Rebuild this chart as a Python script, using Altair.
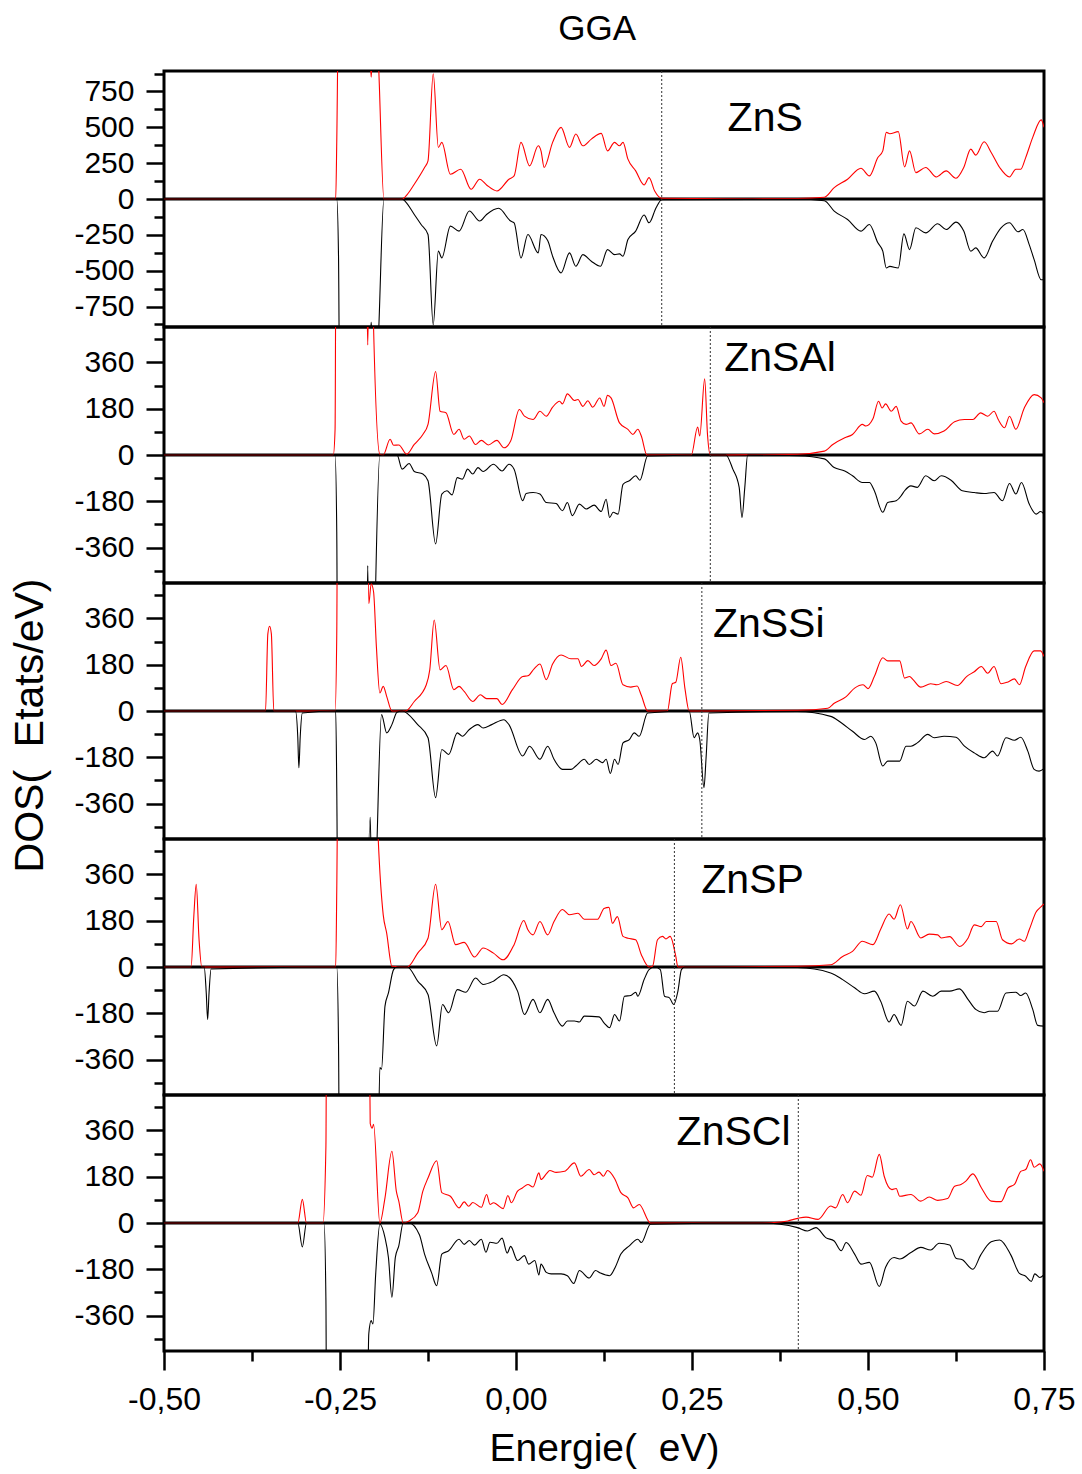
import altair as alt
import pandas as pd

FONT = "Liberation Sans"
TITLE = "GGA"
X_TITLE = "Energie(\u00a0\u00a0eV)"
Y_TITLE = "DOS(\u00a0\u00a0Etats/eV)"
X_DOMAIN = [-0.5, 0.75]
X_MAJOR = [-0.5, -0.25, 0.0, 0.25, 0.5, 0.75]
X_MINOR = [-0.375, -0.125, 0.125, 0.375, 0.625]

# ---------------- ZnS ----------------
zns_up_e = [-0.50, -0.2561, -0.2546, -0.2507, -0.2200, -0.2071, -0.2057, -0.2042, -0.2000, -0.1949, -0.1876, -0.1617, -0.1543, -0.1445, -0.1299, -0.1250, -0.1176, -0.1103, -0.1054, -0.0932, -0.0785, -0.0638, -0.0516, -0.0418, -0.0271, -0.0100, -0.0027, 0.0071, 0.0193, 0.0316, 0.0355, 0.040, 0.052, 0.064, 0.076, 0.085, 0.095, 0.107, 0.121, 0.130, 0.140, 0.147, 0.152, 0.159, 0.170, 0.182, 0.189, 0.197, 0.207, 0.30, 0.40, 0.438, 0.452, 0.471, 0.490, 0.502, 0.514, 0.521, 0.526, 0.531, 0.543, 0.552, 0.559, 0.568, 0.582, 0.597, 0.611, 0.625, 0.636, 0.646, 0.653, 0.665, 0.675, 0.687, 0.701, 0.710, 0.717, 0.724, 0.734, 0.746, 0.750]
zns_up_v = [0, 0, 400, 2000, 2000, 1000, 850, 1000, 1500, 900, 0, 0, 33, 103, 220, 266, 874, 360, 395, 173, 208, 68, 138, 98, 56, 138, 161, 395, 231, 371, 336, 220, 395, 500, 360, 453, 371, 418, 458, 336, 395, 371, 395, 278, 196, 98, 149, 56, 5, 2, 4, 12, 79, 138, 215, 161, 289, 336, 465, 455, 470, 224, 336, 184, 220, 154, 196, 145, 220, 348, 306, 399, 325, 220, 154, 208, 208, 289, 430, 552, 500]
zns_dn_e = [-0.50, -0.2546, -0.2521, -0.2497, -0.2200, -0.2071, -0.2057, -0.2042, -0.2000, -0.1949, -0.1876, -0.1617, -0.1568, -0.1445, -0.1348, -0.1250, -0.1176, -0.1103, -0.1054, -0.0932, -0.0809, -0.0663, -0.0516, -0.0418, -0.0247, -0.0076, -0.0027, 0.0071, 0.0169, 0.0316, 0.0355, 0.045, 0.052, 0.064, 0.076, 0.085, 0.095, 0.107, 0.120, 0.130, 0.140, 0.147, 0.152, 0.159, 0.170, 0.182, 0.189, 0.199, 0.207, 0.40, 0.438, 0.452, 0.471, 0.490, 0.502, 0.514, 0.521, 0.526, 0.531, 0.543, 0.551, 0.559, 0.568, 0.582, 0.599, 0.611, 0.625, 0.636, 0.646, 0.653, 0.665, 0.677, 0.689, 0.701, 0.713, 0.720, 0.729, 0.736, 0.746, 0.750]
zns_dn_v = [0, 0, -400, -2000, -2000, -1000, -860, -1000, -1500, -900, 0, 0, -20, -108, -178, -248, -878, -364, -411, -189, -224, -84, -154, -108, -65, -154, -166, -411, -248, -376, -248, -290, -399, -516, -376, -469, -388, -434, -469, -353, -388, -383, -399, -283, -224, -112, -166, -61, -5, -2, -12, -84, -143, -224, -178, -306, -364, -481, -470, -481, -243, -353, -201, -236, -173, -213, -161, -224, -364, -341, -411, -294, -201, -166, -229, -213, -318, -423, -563, -563]

# ---------------- ZnSAl ----------------
znsal_up_e = [-0.50, -0.2595, -0.2570, -0.2546, -0.2200, -0.2120, -0.2106, -0.2091, -0.2060, -0.2040, -0.1934, -0.1886, -0.1788, -0.1739, -0.1665, -0.1553, -0.1445, -0.1323, -0.1250, -0.1142, -0.1078, -0.0995, -0.0883, -0.0809, -0.0736, -0.0663, -0.0575, -0.0492, -0.0394, -0.0271, -0.0173, -0.0076, 0.0047, 0.0120, 0.0242, 0.0340, 0.043, 0.052, 0.062, 0.066, 0.073, 0.083, 0.088, 0.095, 0.102, 0.109, 0.119, 0.125, 0.130, 0.135, 0.147, 0.159, 0.166, 0.173, 0.178, 0.186, 0.249, 0.258, 0.261, 0.268, 0.272, 0.276, 0.40, 0.438, 0.450, 0.467, 0.478, 0.492, 0.497, 0.507, 0.515, 0.520, 0.525, 0.533, 0.540, 0.547, 0.554, 0.561, 0.573, 0.585, 0.594, 0.608, 0.623, 0.637, 0.649, 0.660, 0.670, 0.679, 0.685, 0.694, 0.701, 0.710, 0.722, 0.736, 0.746, 0.750]
znsal_up_v = [0, 0, 100, 2000, 2000, 700, 428, 700, 1500, 700, 3, 0, 61, 38, 39, 3, 41, 80, 119, 325, 170, 164, 80, 100, 61, 74, 41, 57, 39, 57, 28, 54, 177, 151, 138, 170, 151, 186, 209, 199, 238, 212, 216, 189, 211, 186, 222, 189, 232, 222, 125, 100, 80, 100, 74, 0, 0, 109, 74, 296, 80, 0, 3, 15, 41, 67, 80, 119, 113, 141, 209, 183, 199, 170, 189, 132, 119, 125, 82, 100, 82, 93, 129, 138, 138, 164, 151, 170, 138, 106, 151, 100, 183, 235, 222, 203]
znsal_dn_e = [-0.50, -0.2570, -0.2546, -0.2521, -0.2200, -0.2120, -0.2106, -0.2091, -0.2050, -0.1993, -0.1934, -0.1690, -0.1617, -0.1519, -0.1445, -0.1323, -0.1250, -0.1142, -0.1054, -0.0981, -0.0907, -0.0834, -0.0761, -0.0687, -0.0614, -0.0540, -0.0467, -0.0320, -0.0198, -0.0100, -0.0027, 0.0095, 0.0144, 0.0242, 0.0340, 0.043, 0.057, 0.066, 0.073, 0.080, 0.090, 0.100, 0.111, 0.121, 0.128, 0.133, 0.138, 0.145, 0.152, 0.161, 0.170, 0.176, 0.187, 0.298, 0.308, 0.317, 0.321, 0.325, 0.329, 0.40, 0.438, 0.452, 0.467, 0.478, 0.492, 0.502, 0.509, 0.521, 0.528, 0.540, 0.547, 0.552, 0.561, 0.570, 0.582, 0.594, 0.604, 0.618, 0.634, 0.651, 0.665, 0.679, 0.691, 0.701, 0.710, 0.718, 0.729, 0.739, 0.745, 0.750]
znsal_dn_v = [0, 0, -300, -2000, -2000, -800, -430, -800, -1500, -500, 0, 0, -55, -33, -64, -74, -100, -346, -152, -139, -155, -88, -94, -55, -74, -49, -64, -36, -62, -36, -55, -178, -150, -146, -152, -185, -189, -217, -185, -236, -191, -210, -195, -220, -172, -243, -223, -230, -114, -100, -81, -98, -4, 0, -55, -126, -243, -126, 0, -3, -15, -49, -62, -81, -107, -107, -139, -223, -185, -178, -159, -139, -120, -126, -81, -100, -81, -98, -139, -146, -150, -146, -178, -111, -152, -107, -191, -230, -220, -230]

# ---------------- ZnSSi ----------------
znssi_up_e = [-0.50, -0.3558, -0.3525, -0.3500, -0.3475, -0.3440, -0.2570, -0.2546, -0.2521, -0.2200, -0.2130, -0.2091, -0.2057, -0.2023, -0.1983, -0.1934, -0.1886, -0.1837, -0.1763, -0.1568, -0.1445, -0.1274, -0.1225, -0.1162, -0.1078, -0.0995, -0.0883, -0.0809, -0.0736, -0.0614, -0.0506, -0.0418, -0.0271, -0.0198, -0.0051, 0.0095, 0.0169, 0.0257, 0.0340, 0.043, 0.052, 0.064, 0.078, 0.088, 0.093, 0.102, 0.111, 0.121, 0.128, 0.135, 0.142, 0.152, 0.163, 0.172, 0.178, 0.187, 0.215, 0.222, 0.227, 0.234, 0.240, 0.246, 0.40, 0.443, 0.452, 0.469, 0.481, 0.493, 0.500, 0.509, 0.521, 0.528, 0.545, 0.552, 0.559, 0.564, 0.575, 0.589, 0.598, 0.611, 0.627, 0.640, 0.651, 0.661, 0.670, 0.679, 0.689, 0.698, 0.708, 0.715, 0.724, 0.736, 0.745, 0.750]
znssi_up_v = [0, 0, 300, 330, 300, 0, 0, 300, 2000, 2000, 1500, 418, 495, 463, 250, 70, 96, 57, 0, 0, 37, 102, 160, 354, 160, 177, 83, 96, 76, 37, 63, 48, 48, 25, 83, 134, 137, 164, 183, 122, 183, 218, 203, 203, 173, 196, 177, 203, 237, 177, 186, 102, 93, 97, 61, 0, 0, 106, 112, 209, 87, 0, 3, 11, 30, 56, 89, 102, 87, 134, 207, 195, 195, 128, 134, 122, 93, 106, 102, 115, 99, 134, 153, 173, 147, 173, 106, 112, 125, 102, 173, 234, 234, 212]
znssi_dn_e = [-0.50, -0.3133, -0.3100, -0.3084, -0.3065, -0.3035, -0.2561, -0.2546, -0.2507, -0.2200, -0.2071, -0.2042, -0.2000, -0.1910, -0.1837, -0.1763, -0.1690, -0.1617, -0.1396, -0.1250, -0.1142, -0.1054, -0.0956, -0.0834, -0.0761, -0.0663, -0.0540, -0.0467, -0.0345, -0.0173, -0.0100, 0.0095, 0.0193, 0.0340, 0.045, 0.054, 0.066, 0.078, 0.085, 0.097, 0.104, 0.114, 0.123, 0.128, 0.134, 0.140, 0.145, 0.152, 0.161, 0.168, 0.175, 0.187, 0.246, 0.253, 0.258, 0.261, 0.267, 0.270, 0.274, 0.40, 0.447, 0.462, 0.478, 0.495, 0.504, 0.511, 0.521, 0.528, 0.545, 0.554, 0.561, 0.570, 0.585, 0.594, 0.608, 0.625, 0.637, 0.651, 0.665, 0.677, 0.684, 0.696, 0.708, 0.717, 0.727, 0.736, 0.743, 0.750]
znssi_dn_v = [0, 0, -100, -221, -100, -8, 0, -300, -2000, -2000, -414, -800, -700, -14, -85, -53, -5, 0, -53, -104, -337, -150, -169, -85, -98, -72, -53, -66, -53, -34, -53, -175, -137, -188, -137, -188, -227, -227, -214, -188, -208, -188, -201, -188, -243, -188, -208, -124, -111, -85, -98, -8, 0, -104, -85, -111, -298, -182, -8, -2, -21, -46, -79, -111, -98, -124, -214, -195, -195, -137, -137, -124, -91, -104, -98, -102, -137, -163, -182, -156, -175, -104, -114, -102, -156, -227, -234, -224]

# ---------------- ZnSP ----------------
znsp_up_e = [-0.50, -0.4615, -0.4576, -0.4542, -0.4502, -0.4463, -0.2561, -0.2546, -0.2497, -0.2100, -0.1959, -0.1886, -0.1837, -0.1763, -0.1543, -0.1396, -0.1250, -0.1142, -0.1054, -0.0966, -0.0858, -0.0736, -0.0589, -0.0467, -0.0320, -0.0183, -0.0027, 0.0110, 0.0169, 0.0242, 0.0340, 0.045, 0.054, 0.066, 0.076, 0.088, 0.097, 0.116, 0.125, 0.132, 0.137, 0.144, 0.152, 0.159, 0.170, 0.178, 0.189, 0.194, 0.201, 0.208, 0.213, 0.219, 0.227, 0.230, 0.40, 0.447, 0.464, 0.478, 0.492, 0.507, 0.518, 0.530, 0.537, 0.546, 0.556, 0.561, 0.575, 0.587, 0.599, 0.604, 0.616, 0.630, 0.642, 0.651, 0.661, 0.668, 0.682, 0.691, 0.704, 0.715, 0.722, 0.729, 0.739, 0.746, 0.750]
znsp_up_v = [0, 0, 200, 322, 106, 0, 0, 300, 2000, 2000, 510, 203, 132, 3, 0, 54, 112, 322, 145, 177, 87, 96, 39, 74, 54, 28, 87, 181, 145, 125, 177, 125, 177, 224, 203, 209, 186, 186, 228, 232, 170, 196, 119, 112, 106, 48, 0, 3, 106, 119, 109, 119, 41, 0, 3, 9, 41, 61, 100, 87, 147, 206, 186, 242, 148, 177, 113, 128, 125, 113, 118, 80, 112, 164, 157, 177, 177, 106, 90, 109, 100, 145, 215, 235, 245]
znsp_dn_e = [-0.50, -0.4429, -0.4400, -0.4380, -0.4360, -0.4331, -0.2546, -0.2521, -0.2487, -0.2100, -0.1959, -0.1934, -0.1910, -0.1861, -0.1812, -0.1739, -0.1690, -0.1543, -0.1396, -0.1250, -0.1127, -0.1044, -0.0956, -0.0834, -0.0712, -0.0575, -0.0467, -0.0320, -0.0173, 0.0022, 0.0120, 0.0242, 0.0340, 0.045, 0.054, 0.066, 0.073, 0.083, 0.090, 0.097, 0.118, 0.125, 0.133, 0.140, 0.147, 0.154, 0.163, 0.170, 0.173, 0.182, 0.189, 0.197, 0.205, 0.211, 0.218, 0.224, 0.230, 0.235, 0.240, 0.40, 0.447, 0.464, 0.481, 0.495, 0.509, 0.518, 0.530, 0.537, 0.547, 0.556, 0.566, 0.578, 0.592, 0.604, 0.616, 0.630, 0.642, 0.653, 0.665, 0.672, 0.684, 0.696, 0.710, 0.717, 0.724, 0.734, 0.741, 0.750]
znsp_dn_v = [0, 0, -100, -204, -100, -8, 0, -300, -2000, -2000, -800, -391, -398, -152, -101, -10, 0, 0, -55, -107, -307, -146, -178, -88, -98, -43, -68, -55, -30, -94, -185, -126, -178, -126, -178, -230, -210, -210, -214, -191, -194, -217, -236, -185, -210, -114, -111, -98, -114, -49, -10, 0, -10, -114, -120, -146, -94, -10, 0, -2, -23, -49, -81, -104, -94, -133, -214, -185, -227, -133, -152, -94, -114, -94, -94, -85, -126, -165, -178, -172, -172, -101, -98, -111, -101, -165, -227, -230]

# ---------------- ZnSCl ----------------
znscl_up_e = [-0.50, -0.3099, -0.3035, -0.2976, -0.2742, -0.2700, -0.2678, -0.2150, -0.2106, -0.2071, -0.2042, -0.2023, -0.1934, -0.1861, -0.1763, -0.1700, -0.1665, -0.1602, -0.1519, -0.1396, -0.1323, -0.1250, -0.1127, -0.1054, -0.0932, -0.0809, -0.0736, -0.0672, -0.0614, -0.0492, -0.0418, -0.0369, -0.0320, -0.0271, -0.0183, -0.0115, -0.0066, 0.0022, 0.0095, 0.0169, 0.0242, 0.0325, 0.0355, 0.043, 0.048, 0.057, 0.069, 0.083, 0.092, 0.104, 0.111, 0.118, 0.124, 0.130, 0.140, 0.149, 0.159, 0.167, 0.175, 0.191, 0.30, 0.367, 0.386, 0.400, 0.412, 0.429, 0.447, 0.454, 0.464, 0.471, 0.481, 0.490, 0.499, 0.506, 0.516, 0.523, 0.534, 0.540, 0.545, 0.561, 0.575, 0.587, 0.599, 0.613, 0.623, 0.632, 0.639, 0.649, 0.661, 0.675, 0.689, 0.699, 0.708, 0.717, 0.724, 0.731, 0.736, 0.744, 0.750]
znscl_up_v = [0, 0, 92, 0, 0, 300, 2000, 2000, 1500, 388, 369, 384, 0, 98, 279, 124, 85, 0, 8, 40, 124, 175, 242, 118, 104, 59, 82, 65, 80, 61, 111, 72, 79, 72, 56, 107, 79, 124, 137, 150, 140, 195, 169, 191, 204, 197, 201, 234, 182, 208, 188, 198, 182, 204, 173, 118, 98, 59, 72, 0, 0, 2, 8, 18, 23, 14, 66, 59, 111, 79, 124, 108, 185, 178, 267, 182, 130, 134, 104, 111, 85, 101, 88, 95, 143, 150, 163, 191, 137, 85, 83, 137, 150, 201, 208, 246, 217, 230, 201]
znscl_dn_e = [-0.50, -0.3099, -0.3035, -0.2976, -0.2727, -0.2700, -0.2678, -0.2150, -0.2091, -0.2057, -0.2032, -0.1993, -0.1934, -0.1861, -0.1812, -0.1763, -0.1714, -0.1665, -0.1602, -0.1519, -0.1372, -0.1299, -0.1201, -0.1127, -0.1054, -0.0956, -0.0809, -0.0736, -0.0663, -0.0589, -0.0492, -0.0428, -0.0369, -0.0271, -0.0198, -0.0125, -0.0076, 0.0022, 0.0120, 0.0179, 0.0267, 0.0325, 0.0355, 0.043, 0.050, 0.064, 0.073, 0.082, 0.090, 0.104, 0.113, 0.120, 0.133, 0.141, 0.149, 0.161, 0.173, 0.178, 0.191, 0.35, 0.400, 0.414, 0.426, 0.440, 0.452, 0.462, 0.469, 0.481, 0.490, 0.502, 0.516, 0.525, 0.537, 0.545, 0.561, 0.575, 0.589, 0.601, 0.616, 0.625, 0.634, 0.649, 0.660, 0.675, 0.687, 0.703, 0.715, 0.724, 0.732, 0.737, 0.744, 0.750]
znscl_dn_v = [0, 0, -93, 0, 0, -300, -2000, -2000, -431, -380, -393, -199, -5, -57, -134, -289, -134, -89, 0, 0, -46, -121, -192, -244, -121, -108, -63, -83, -68, -86, -63, -114, -75, -79, -59, -117, -91, -146, -127, -160, -146, -202, -160, -192, -198, -198, -205, -235, -185, -214, -185, -195, -205, -172, -121, -89, -63, -76, -5, 0, -18, -31, -18, -57, -70, -108, -76, -121, -160, -153, -247, -172, -134, -140, -115, -95, -105, -79, -86, -137, -143, -180, -125, -73, -66, -125, -196, -207, -227, -198, -212, -201]

PANELS = [
    dict(name="ZnS", up=(zns_up_e, zns_up_v), dn=(zns_dn_e, zns_dn_v), fermi=0.207,
         dom=893, step=250, major=[-750, -500, -250, 0, 250, 500, 750],
         minor=[-875, -625, -375, -125, 125, 375, 625, 875], lab=(0.354, 475)),
    dict(name="ZnSAl", up=(znsal_up_e, znsal_up_v), dn=(znsal_dn_e, znsal_dn_v), fermi=0.276,
         dom=498, step=180, major=[-360, -180, 0, 180, 360],
         minor=[-450, -270, -90, 90, 270, 450], lab=(0.375, 325)),
    dict(name="ZnSSi", up=(znssi_up_e, znssi_up_v), dn=(znssi_dn_e, znssi_dn_v), fermi=0.264,
         dom=498, step=180, major=[-360, -180, 0, 180, 360],
         minor=[-450, -270, -90, 90, 270, 450], lab=(0.359, 289)),
    dict(name="ZnSP", up=(znsp_up_e, znsp_up_v), dn=(znsp_dn_e, znsp_dn_v), fermi=0.225,
         dom=498, step=180, major=[-360, -180, 0, 180, 360],
         minor=[-450, -270, -90, 90, 270, 450], lab=(0.336, 286)),
    dict(name="ZnSCl", up=(znscl_up_e, znscl_up_v), dn=(znscl_dn_e, znscl_dn_v), fermi=0.401,
         dom=498, step=180, major=[-360, -180, 0, 180, 360],
         minor=[-450, -270, -90, 90, 270, 450], lab=(0.309, 305)),
]

for p in PANELS:
    assert len(p["up"][0]) == len(p["up"][1]), p["name"] + " up"
    assert len(p["dn"][0]) == len(p["dn"][1]), p["name"] + " dn"

x_scale = alt.Scale(domain=X_DOMAIN, nice=False, zero=False)


def make_panel(i, p):
    last = i == len(PANELS) - 1
    y_scale = alt.Scale(domain=[-p["dom"], p["dom"]], nice=False, zero=False)
    step = p["step"]
    yaxis_kw = dict(
        values=sorted(p["major"] + p["minor"]),
        labelExpr=f"datum.value % {step} === 0 ? (datum.value < 0 ? '-' + abs(datum.value) : '' + datum.value) : ''",
        tickSize=18, tickWidth=2.5, tickColor="black",
        tickDash={"condition": {"test": f"datum.value % {step} !== 0", "value": [10, 40]}, "value": [40, 1]},
        domain=False, grid=False, labelOverlap=False, labelFlush=False,
        labelFont=FONT, labelFontSize=30, labelColor="black", labelPadding=12,
    )
    if i == 2:
        yaxis_kw.update(title=Y_TITLE, titleFont=FONT, titleFontSize=41, titleFontWeight="normal",
                        titleColor="black", titleAngle=270, titleBaseline="bottom", titleAlign="center",
                        titleX=-113, titleY=142)
    else:
        yaxis_kw.update(title=None)
    yaxis = alt.Axis(**yaxis_kw)

    if last:
        xaxis = alt.Axis(
            values=sorted(X_MAJOR + X_MINOR),
            labelExpr="datum.value % 0.25 === 0 ? (datum.value < 0 ? '-' : '') + replace(format(abs(datum.value), '.2f'), '.', ',') : ''",
            tickSize=19, tickWidth=2.5, tickColor="black",
            tickDash={"condition": {"test": "datum.value % 0.25 !== 0", "value": [10, 40]}, "value": [40, 1]},
            domain=False, grid=False, labelOverlap=False, labelFlush=False,
            labelFont=FONT, labelFontSize=32, labelColor="black", labelPadding=14,
            title=X_TITLE, titleFont=FONT, titleFontSize=39, titleFontWeight="normal",
            titleColor="black", titlePadding=14,
        )
    else:
        xaxis = None

    # the same axis definition is used in every layer so the merged axis is kept
    X = lambda: alt.X("E:Q", scale=x_scale, axis=xaxis)
    Y = lambda: alt.Y("v:Q", scale=y_scale, axis=yaxis)

    up = pd.DataFrame({"E": p["up"][0], "v": p["up"][1]})
    dn = pd.DataFrame({"E": p["dn"][0], "v": p["dn"][1]})
    zero_df = pd.DataFrame({"v": [0]})
    fermi_df = pd.DataFrame({"E": [p["fermi"]]})
    lab_df = pd.DataFrame({"E": [p["lab"][0]], "v": [p["lab"][1]], "t": [p["name"]]})

    zero = alt.Chart(zero_df).mark_rule(color="black", strokeWidth=3).encode(y=Y())
    line_up = alt.Chart(up).mark_line(color="#ff0000", strokeWidth=1.1, clip=True,
                                      interpolate="monotone").encode(x=X(), y=Y())
    line_dn = alt.Chart(dn).mark_line(color="black", strokeWidth=1.1, clip=True,
                                      interpolate="monotone").encode(x=X(), y=Y())
    fermi = alt.Chart(fermi_df).mark_rule(color="#333333", strokeWidth=1, strokeDash=[2, 2]).encode(x=X())
    label = alt.Chart(lab_df).mark_text(font=FONT, fontSize=41, color="black", align="center",
                                         baseline="alphabetic").encode(x=X(), y=Y(), text="t:N")
    return alt.layer(zero, line_up, line_dn, fermi, label).properties(width=880, height=256)


chart = alt.vconcat(*[make_panel(i, p) for i, p in enumerate(PANELS)], spacing=0, bounds="flush").properties(
    title=alt.TitleParams(TITLE, font=FONT, fontSize=35, fontWeight="normal", color="black",
                          anchor="middle", offset=10, dx=55),
    padding={"left": 7, "top": 12, "right": 5, "bottom": 0},
).configure_view(stroke="black", strokeWidth=3)

chart.save("out.html", embed_options={"renderer": "svg", "actions": False})
